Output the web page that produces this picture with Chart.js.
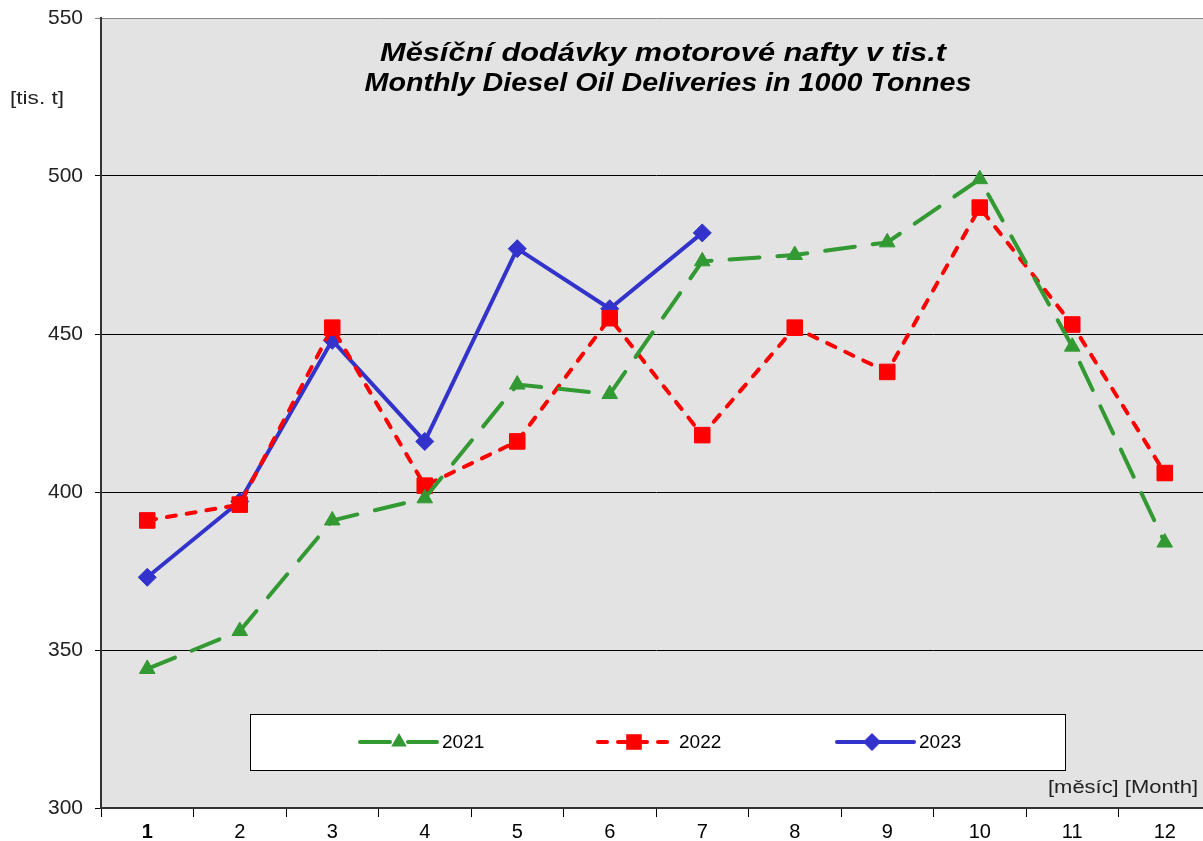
<!DOCTYPE html>
<html>
<head>
<meta charset="utf-8">
<script src="https://cdn.jsdelivr.net/npm/chart.js@4.4.0/dist/chart.umd.min.js"></script>
<style>
  html, body { margin: 0; padding: 0; background: #fff; overflow: hidden; }
  #wrap { width: 1203px; height: 841px; overflow: hidden; }
</style>
</head>
<body>
<!-- canvas is wider than the window: the original plot runs off the right edge,
     and Chart.js keeps ~12px free for the point markers -->
<div id="wrap"><canvas id="c" width="1223" height="841"></canvas></div>
<script>
// months on the x axis
const months = ['1', '2', '3', '4', '5', '6', '7', '8', '9', '10', '11', '12'];

// deliveries in thousand tonnes
const y2021 = [344, 356, 391, 398, 434, 431, 473, 475, 479, 499, 446, 384];
const y2022 = [391, 396, 452, 402, 416, 455, 418, 452, 438, 490, 453, 406];
const y2023 = [373, 397, 448, 416, 477, 458, 482, null, null, null, null, null];

const yTicks = [300, 350, 400, 450, 500, 550];

const titleLines = ['Měsíční dodávky motorové nafty v tis.t', 'Monthly Diesel Oil Deliveries in 1000 Tonnes'];
const yUnit = '[tis. t]';
const xUnit = '[měsíc] [Month]';

const FONT = '"Liberation Sans", Arial, sans-serif';

// draws text stretched sideways to a given width (the original is a bit wide)
function wideText(ctx, text, x, y, width, align) {
    const w = ctx.measureText(text).width;
    const k = width / w;
    ctx.save();
    let left = x;
    if (align === 'center') left = x - width / 2;
    if (align === 'right') left = x - width;
    ctx.translate(left, y);
    ctx.scale(k, 1);
    ctx.textAlign = 'left';
    ctx.fillText(text, 0, 0);
    ctx.restore();
}

// grey plot background, title, units and legend box
const plotBg = {
    id: 'plotBg',
    beforeDraw(chart) {
        const { ctx, chartArea: a } = chart;
        ctx.save();
        ctx.fillStyle = '#e3e3e3';
        ctx.fillRect(a.left, a.top, a.right - a.left, a.bottom - a.top);
        ctx.restore();
    },
    afterDraw(chart) {
        const { ctx } = chart;
        ctx.save();
        ctx.fillStyle = '#000';
        ctx.textBaseline = 'alphabetic';
        ctx.font = 'italic bold 25px ' + FONT;
        wideText(ctx, titleLines[0], 663, 61, 566, 'center');
        wideText(ctx, titleLines[1], 668, 91, 607, 'center');

        // axis unit labels
        ctx.font = '18px ' + FONT;
        ctx.fillStyle = '#222';
        wideText(ctx, yUnit, 10, 104, 54, 'left');
        wideText(ctx, xUnit, 1198, 793, 150, 'right');

        // legend box
        ctx.fillStyle = '#fff';
        ctx.fillRect(250, 714, 815, 56);
        ctx.strokeStyle = '#000';
        ctx.lineWidth = 1;
        ctx.strokeRect(250.5, 714.5, 815, 56);

        const samples = [
            { x0: 360, x1: 437, mx: 399 },
            { x0: 598, x1: 674, mx: 634 },
            { x0: 837, x1: 914, mx: 872 }
        ];
        const ly = 742;
        chart.data.datasets.forEach((ds, i) => {
            const s = samples[i];
            ctx.save();
            ctx.strokeStyle = ds.borderColor;
            ctx.lineWidth = ds.borderWidth;
            ctx.lineCap = ds.borderCapStyle || 'butt';
            ctx.setLineDash(ds.borderDash || []);
            ctx.beginPath();
            ctx.moveTo(s.x0, ly);
            ctx.lineTo(s.x1, ly);
            ctx.stroke();
            ctx.restore();
            ctx.save();
            ctx.fillStyle = ds.pointBackgroundColor;
            ctx.strokeStyle = ds.pointBorderColor;
            ctx.lineWidth = 1;
            Chart.helpers.drawPoint(ctx, { pointStyle: ds.pointStyle, radius: ds.pointRadius, rotation: 0 }, s.mx, ly);
            ctx.restore();
            ctx.fillStyle = '#000';
            ctx.font = '19px ' + FONT;
            ctx.textBaseline = 'middle';
            ctx.textAlign = 'left';
            ctx.fillText(ds.label, s.x1 + 5, ly + 1);
        });
        ctx.restore();
    }
};

new Chart(document.getElementById('c'), {
    type: 'line',
    data: {
        labels: months,
        datasets: [
            {
                label: '2021',
                data: y2021,
                borderColor: '#339933',
                backgroundColor: '#339933',
                borderWidth: 4,
                borderDash: [30, 18],
                borderCapStyle: 'round',
                pointStyle: 'triangle',
                pointRadius: 9,
                pointBackgroundColor: '#339933',
                pointBorderColor: '#339933',
                pointBorderWidth: 1,
                tension: 0
            },
            {
                label: '2022',
                data: y2022,
                borderColor: '#ff0000',
                backgroundColor: '#ff0000',
                borderWidth: 4,
                borderDash: [9, 11],
                borderCapStyle: 'round',
                pointStyle: 'rect',
                pointRadius: 11,
                pointBackgroundColor: '#ff0000',
                pointBorderColor: '#ff0000',
                pointBorderWidth: 1,
                tension: 0
            },
            {
                label: '2023',
                data: y2023,
                borderColor: '#3333cc',
                backgroundColor: '#3333cc',
                borderWidth: 4,
                borderCapStyle: 'round',
                pointStyle: 'rectRot',
                pointRadius: 9,
                pointBackgroundColor: '#3333cc',
                pointBorderColor: '#3333cc',
                pointBorderWidth: 1,
                tension: 0
            }
        ]
    },
    options: {
        responsive: false,
        animation: false,
        layout: { padding: { top: 18, right: 0, left: 0, bottom: 0 } },
        plugins: {
            legend: { display: false },
            title: { display: false },
            tooltip: { enabled: false }
        },
        scales: {
            x: {
                offset: true,
                grid: {
                    offset: true,
                    drawOnChartArea: false,
                    drawTicks: true,
                    tickLength: 9,
                    color: '#000',
                    lineWidth: 1
                },
                border: { color: '#333', width: 2 },
                ticks: {
                    color: '#000',
                    padding: 3,
                    maxRotation: 0,
                    font: ctx => ({ family: FONT, size: 20, weight: ctx.index === 0 ? 'bold' : 'normal' })
                },
                afterFit(scale) {
                    scale.height = 33;
                    scale.paddingLeft = 0;
                    scale.paddingRight = 0;
                }
            },
            y: {
                min: 300,
                max: 550,
                afterBuildTicks(scale) { scale.ticks = yTicks.map(v => ({ value: v })); },
                grid: {
                    color: ctx => (ctx.tick && (ctx.tick.value === 550) ? '#888' : '#000'),
                    lineWidth: 1,
                    tickLength: 6,
                    drawTicks: true
                },
                border: { color: '#333', width: 2 },
                ticks: {
                    color: '#222',
                    padding: 12,
                    font: { family: FONT, size: 21 }
                },
                afterFit(scale) {
                    scale.width = 101;
                    scale.paddingTop = 0;
                    scale.paddingBottom = 0;
                }
            }
        }
    },
    plugins: [plotBg]
});
</script>
</body>
</html>
